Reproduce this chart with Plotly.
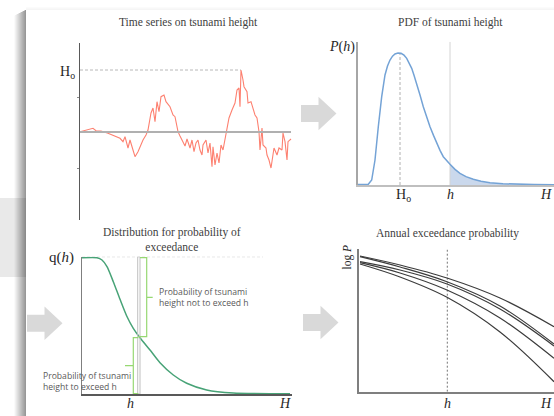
import plotly.graph_objects as go

W, H = 554, 416
def px(x): return x / W
def py(y): return 1 - y / H

# ---------------- data ----------------
# Panel 1: time series on tsunami height (time index, height in arbitrary units)
ts_time = [0, 8, 13, 16, 21, 28, 35, 40, 43, 45, 48, 50, 53, 55, 58, 63, 66, 68, 71, 73,
           75, 77, 79, 81, 84, 86, 90, 93, 95, 98, 100, 103, 105, 107, 110, 112, 114, 116,
           118, 120, 122, 123, 126, 128, 130, 132, 133, 135, 137, 139, 141, 143, 145, 147,
           149, 152, 155, 157, 159, 160, 161, 163, 164, 167, 168, 171, 173, 175, 177, 179,
           180, 182, 183, 186, 187, 189, 191, 193, 194, 197, 199, 202, 203, 205, 207, 208, 211]
ts_height = [0.3, 2.7, 3.7, 1.3, 1, -1.3, -4, -6.3, -9.7, -4.7, -16, -8, -18, -24.7, -19.7,
             -8, -3, 2, 19, 24, 10.3, 30.3, 20.3, 35.3, 37, 30.3, 25.3, 17, 15.3, 0.3, -4,
             -9.7, -14, -7, -16, -8, -19.7, -11, -8, -18, -23, -13, -8, -21, -11, -34.7,
             -14.7, -33, -21, -31, -13, -18, -8, 0.3, 14, 22, 29, 42, 44, 25.3, 62, 52, 45.3,
             40.3, 29, 30.3, 24, 17, 14, 0.3, -18, 4, -13, -16, -23, -28, -36, -24.7, -16,
             -23, -16, -18, -1, -9.7, -28, -9.7, -7]
H_o = 62
t_peak = 161

# Panel 2: PDF of tsunami height
pdf_h = [0, 10.3, 13.7, 17, 20.3, 23.7, 27, 29.5, 32, 34.5, 37, 40, 43, 46, 48.7, 51, 53.7,
         56, 58.7, 62, 65.3, 68.5, 72, 75.5, 78.7, 82, 85.3, 88.5, 92, 97, 102, 108, 115.3,
         123, 132, 145, 158.7, 176, 196]
pdf_p = [0.6, 0.7, 5, 25, 58.3, 88.3, 110, 119, 125, 128.8, 131, 131.9, 131.7, 129.8, 126.7,
         122.2, 116.7, 109.8, 101.7, 90, 78.3, 67.8, 58.3, 49.6, 41.7, 34.6, 28.3, 24.1, 20.7,
         15.6, 11.7, 8.4, 5.7, 3.8, 2.3, 1.3, 0.7, 0.4, 0.2]
pdf_mode = 42
pdf_hsel = 92

# Panel 3: exceedance probability distribution q(h)
q_h = [0, 15, 20, 25, 31.3, 38, 44.7, 51.3, 58, 68, 78, 91.3, 104.7, 124.7, 151.3, 208]
q_val = [136.3, 136.3, 134, 127.3, 112.3, 94.7, 78, 65.7, 56.3, 44, 31.3, 19, 10.7, 4, 1, 0.3]
q_max = 137.3
q_hsel = 57

# Panel 4: annual exceedance probability curves (H, log P)
aep_H = [1, 41, 88, 141, 195]
aep_curves = [
    [135.7, 126.7, 113.7, 93.7, 65],
    [135, 124.7, 110, 85.7, 47.7],
    [130, 121.7, 107.7, 82.7, 45.7],
    [129, 118.7, 101.7, 73.7, 33.4],
    [127.7, 114.7, 94.4, 59.7, 10],
]
aep_hsel = 88.3

# ---------------- figure ----------------
fig = go.Figure()

# panel 1
fig.add_trace(go.Scatter(x=[0, t_peak], y=[H_o, H_o], mode='lines', xaxis='x', yaxis='y',
                         line=dict(color='#b8b8b8', width=1, dash='3px,2px'), hoverinfo='skip'))
fig.add_trace(go.Scatter(x=ts_time, y=ts_height, mode='lines', xaxis='x', yaxis='y',
                         line=dict(color='#fd8070', width=1.1)))
fig.add_trace(go.Scatter(x=[0, 211], y=[0, 0], mode='lines', xaxis='x', yaxis='y',
                         line=dict(color='#b0b0b0', width=2), hoverinfo='skip'))

# panel 2
fill_h = [h for h in pdf_h if h >= pdf_hsel]
fill_p = [p for h, p in zip(pdf_h, pdf_p) if h >= pdf_hsel]
fig.add_trace(go.Scatter(x=fill_h, y=fill_p, mode='lines', xaxis='x2', yaxis='y2',
                         fill='tozeroy', fillcolor='#cad8ec', line=dict(width=0)))
fig.add_trace(go.Scatter(x=[pdf_hsel, pdf_hsel], y=[0, 143.3], mode='lines', xaxis='x2', yaxis='y2',
                         line=dict(color='#d4d4d4', width=1)))
fig.add_trace(go.Scatter(x=[pdf_mode, pdf_mode], y=[0, max(pdf_p)], mode='lines', xaxis='x2', yaxis='y2',
                         line=dict(color='#b0b0b0', width=1, dash='3px,2px')))
fig.add_trace(go.Scatter(x=pdf_h, y=pdf_p, mode='lines', xaxis='x2', yaxis='y2',
                         line=dict(color='#74a3d6', width=1.5)))

# panel 3
fig.add_trace(go.Scatter(x=[0, 181], y=[q_max, q_max], mode='lines', xaxis='x3', yaxis='y3',
                         line=dict(color='#c4c4c4', width=1, dash='3px,2px')))
fig.add_trace(go.Scatter(x=q_h, y=q_val, mode='lines', xaxis='x3', yaxis='y3',
                         line=dict(color='#48a377', width=1.5, shape='spline', smoothing=0.6)))

# panel 4
fig.add_trace(go.Scatter(x=[aep_hsel, aep_hsel], y=[0, 142.4], mode='lines', xaxis='x4', yaxis='y4',
                         line=dict(color='#505050', width=0.8, dash='2px,2px')))
for c in aep_curves:
    fig.add_trace(go.Scatter(x=aep_H, y=c, mode='lines', xaxis='x4', yaxis='y4',
                             line=dict(color='#3c3c3c', width=1.2, shape='spline', smoothing=1.0)))

def ax(domain, rng, anchor, **kw):
    d = dict(domain=domain, range=rng, anchor=anchor, showgrid=False, zeroline=False,
             showticklabels=False, ticks='', fixedrange=True, showline=False)
    d.update(kw)
    return d

# ---------------- shapes ----------------
def ppath(pts, close=True):
    s = 'M ' + ' L '.join(f'{px(x):.5f},{py(y):.5f}' for x, y in pts)
    return s + (' Z' if close else '')

shapes = []
# gray band at left
shapes.append(dict(type='rect', xref='paper', yref='paper', x0=0, x1=px(26), y0=py(277), y1=py(198),
                   fillcolor='#e9e9e9', line=dict(width=0), layer='below'))
# card shadow (left edge)
for i in range(12):
    x0 = 14 + i
    a = 0.02 + 0.035 * i
    shapes.append(dict(type='rect', xref='paper', yref='paper', x0=px(x0), x1=px(x0 + 1),
                       y0=0, y1=py(10 + (11 - i) * 0.5), fillcolor=f'rgba(0,0,0,{a:.3f})',
                       line=dict(width=0), layer='below'))
for i in range(3):
    shapes.append(dict(type='rect', xref='paper', yref='paper', x0=px(26), x1=1,
                       y0=py(10 - i), y1=py(9 - i), fillcolor=f'rgba(0,0,0,{0.04 - 0.012 * i:.3f})',
                       line=dict(width=0), layer='below'))
# card
shapes.append(dict(type='rect', xref='paper', yref='paper', x0=px(26), x1=1, y0=0, y1=py(10),
                   fillcolor='white', line=dict(width=0), layer='below'))

# block arrows
arrow_col = '#d9d9d9'
for (x0, yc) in [(301, 113.5), (27, 323.3), (303, 322.5)]:
    pts = [(x0, yc - 8.5), (x0 + 17.5, yc - 8.5), (x0 + 17.5, yc - 16.8), (x0 + 35.5, yc),
           (x0 + 17.5, yc + 16.8), (x0 + 17.5, yc + 8.5), (x0, yc + 8.5)]
    shapes.append(dict(type='path', xref='paper', yref='paper', path=ppath(pts),
                       fillcolor=arrow_col, line=dict(width=0), layer='below'))

# panel 3: h marker strip and braces
shapes.append(dict(type='rect', xref='x3', yref='y3', x0=55.7, x1=58, y0=0, y1=q_max,
                   fillcolor='rgba(255,255,255,0)', line=dict(color='#c0c0c0', width=1)))
brace_col = '#96d872'
shapes.append(dict(type='path', xref='x3', yref='y3',
                   path='M 58,136.3 L 64.7,136.3 L 64.7,57.3 L 56.3,57.3 M 64.7,96.7 L 70.7,96.7',
                   line=dict(color=brace_col, width=1.2)))
shapes.append(dict(type='path', xref='x3', yref='y3',
                   path='M 56.3,56.3 L 51.3,56.3 L 51.3,0.5 L 56.3,0.5 M 51.3,28.3 L 43,28.3',
                   line=dict(color=brace_col, width=1.2)))

# ---------------- annotations ----------------
SERIF = 'Liberation Serif'
SANS = 'Open Sans'
def ann(text, x, y, size, family=SERIF, color='#333333', xanchor='center', yanchor='middle', **kw):
    d = dict(text=text, x=px(x), y=py(y), xref='paper', yref='paper', showarrow=False,
             font=dict(size=size, family=family, color=color), xanchor=xanchor, yanchor=yanchor)
    d.update(kw)
    return d

annotations = [
    ann('Time series on tsunami height', 188, 22.7, 11.5, color='#404040'),
    ann('PDF of tsunami height', 450, 22.7, 11.5, color='#404040'),
    ann('Distribution for probability of<br>exceedance', 171.7, 239.7, 11.5, color='#404040'),
    ann('Annual exceedance probability', 447.3, 233.3, 11.5, color='#404040'),
    ann('H<sub>o</sub>', 77, 72, 14, color='#262626', xanchor='right'),
    ann('<i>P</i>(<i>h</i>)', 341.5, 47.3, 14, color='#262626'),
    ann('H<sub>o</sub>', 403, 195, 14, color='#262626'),
    ann('<i>h</i>', 450, 194, 14, color='#262626'),
    ann('<i>H</i>', 554, 194, 14, color='#262626', xanchor='right'),
    ann('q(<i>h</i>)', 76, 257.7, 15, color='#262626', xanchor='right'),
    ann('<i>h</i>', 130, 403.3, 14, color='#262626'),
    ann('<i>H</i>', 285, 403.3, 14, color='#262626'),
    ann('log <i>P</i>', 347, 257.5, 11.5, color='#262626', textangle=-90),
    ann('<i>h</i>', 447.3, 403.3, 14, color='#262626'),
    ann('<i>H</i>', 554, 403.3, 14, color='#262626', xanchor='right'),
    ann('Probability of tsunami<br>height not to exceed h', 156.7, 297.3, 8.6, family=SANS,
        color='#595959', xanchor='left', align='left'),
    ann('Probability of tsunami<br>height to exceed h', 41, 381.5, 8.6, family=SANS,
        color='#595959', xanchor='left', align='left'),
]

fig.update_layout(
    width=W, height=H, margin=dict(l=0, r=0, t=0, b=0),
    paper_bgcolor='white', plot_bgcolor='rgba(0,0,0,0)', showlegend=False,
    xaxis=ax([px(80), px(292)], [0, 212], 'y'),
    yaxis=ax([py(220), py(43)], [-88, 89], 'x', showline=True, linecolor='#595959', linewidth=1,
             tickvals=[35, -36], ticks='outside', ticklen=2, tickcolor='#8a8a8a'),
    xaxis2=ax([px(358), 1], [0, 196], 'y2', showline=True, linecolor='#bfbfbf', linewidth=2),
    yaxis2=ax([py(185), py(41.7)], [0, 143.3], 'x2', showline=True, linecolor='#a6a6a6', linewidth=2),
    xaxis3=ax([px(82), px(292)], [0, 210], 'y3', showline=True, linecolor='#595959', linewidth=1.5),
    yaxis3=ax([py(394), py(256.7)], [0, 137.3], 'x3', showline=True, linecolor='#7f7f7f', linewidth=1),
    xaxis4=ax([px(359), 1], [0, 195], 'y4', showline=True, linecolor='#7f7f7f', linewidth=1.5),
    yaxis4=ax([py(391.7), py(249.3)], [0, 142.4], 'x4', showline=True, linecolor='#7f7f7f', linewidth=1.5),
    shapes=shapes, annotations=annotations,
)

fig.write_html('out.html')
